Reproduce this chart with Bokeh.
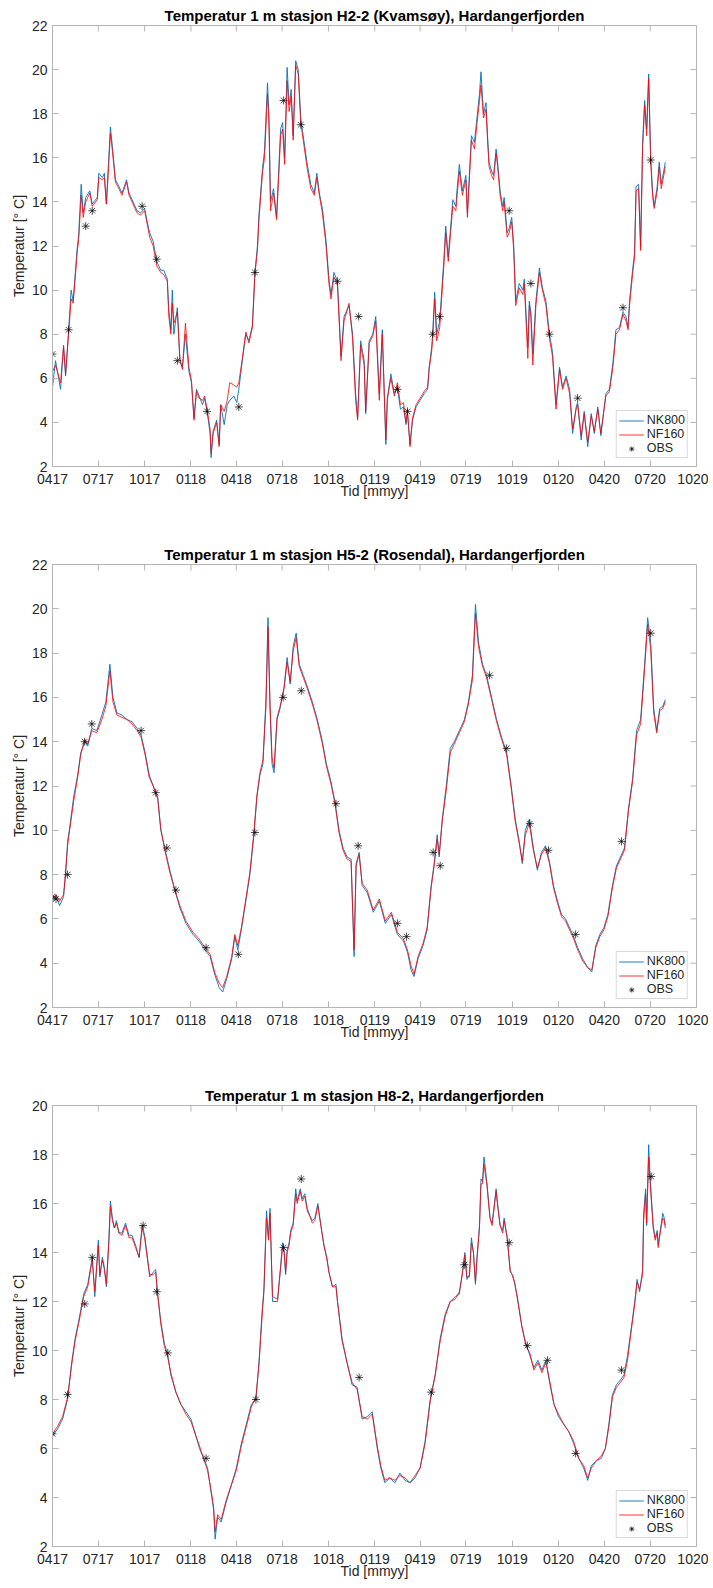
from bokeh.plotting import figure
from bokeh.models import FixedTicker, Range1d, Legend, LegendItem
from bokeh.layouts import column
from bokeh.embed import file_html
from bokeh.resources import INLINE

# ---------------- axis ticks ----------------
tick_days = [0, 91, 183, 275, 365, 456, 548, 640, 730, 821, 913, 1005, 1096, 1187, 1279]
tick_labels = ["0417", "0717", "1017", "0118", "0418", "0718", "1018", "0119",
               "0419", "0719", "1019", "0120", "0420", "0720", "1020"]

# ---------------- H2-2 (Kvamsøy) ----------------
days1 = [0, 6, 16, 22, 26, 32, 37, 41, 46, 49,
         52, 57, 61, 66, 74, 79, 89, 92, 99, 103,
         107, 110, 115, 119, 125, 132, 138, 147, 152, 158,
         168, 175, 183, 188, 193, 200, 207, 215, 221, 228,
         231, 235, 238, 241, 248, 253, 258, 264, 271, 276,
         281, 286, 291, 298, 302, 307, 313, 315, 319, 326,
         331, 334, 341, 347, 352, 360, 366, 370, 377, 384,
         390, 397, 402, 407, 410, 417, 421, 427, 430, 433,
         439, 445, 450, 453, 457, 461, 466, 470, 474, 478,
         483, 488, 493, 501, 506, 513, 520, 525, 530, 536,
         543, 549, 553, 559, 566, 573, 579, 589, 596, 602,
         606, 612, 619, 622, 629, 636, 642, 649, 655, 662,
         665, 672, 679, 685, 691, 697, 702, 705, 710, 715,
         722, 730, 738, 745, 748, 753, 755, 759, 763, 769,
         777, 781, 786, 795, 801, 804, 808, 814, 821, 824,
         832, 838, 842, 848, 851, 856, 861, 864, 867, 872,
         876, 881, 884, 889, 894, 897, 903, 907, 912, 916,
         920, 927, 934, 937, 944, 947, 950, 954, 960, 967,
         973, 980, 987, 993, 1000, 1007, 1013, 1020, 1027, 1033,
         1040, 1043, 1050, 1056, 1063, 1070, 1076, 1083, 1089, 1099,
         1106, 1113, 1119, 1126, 1133, 1139, 1143, 1146, 1152, 1156,
         1159, 1164, 1168, 1172, 1176, 1180, 1184, 1188, 1192, 1195,
         1201, 1205, 1209, 1214, 1217]
nk800_1 = [5.6, 6.8, 5.5, 7.4, 6.1, 8.2, 10.0, 9.5, 11.0, 11.9,
           12.5, 14.8, 13.5, 14.2, 14.5, 13.9, 14.2, 15.3, 15.1, 15.3,
           13.9, 15.2, 17.4, 16.5, 15.0, 14.7, 14.4, 15.0, 14.4, 14.1,
           13.6, 13.5, 13.7, 13.1, 12.6, 12.2, 11.3, 10.9, 10.9, 10.5,
           9.1, 8.2, 10.0, 8.0, 9.2, 6.8, 6.5, 8.0, 6.3, 5.8,
           4.2, 5.5, 5.2, 4.8, 5.1, 4.5, 3.5, 2.4, 3.6, 4.1,
           3.0, 4.8, 3.9, 4.8, 5.0, 5.2, 4.9, 5.5, 6.8, 8.0,
           7.7, 8.4, 10.8, 12.0, 13.4, 15.5, 16.3, 19.4, 17.8, 14.0,
           14.6, 13.3, 15.8, 17.3, 17.6, 16.0, 20.1, 18.4, 19.1, 17.0,
           20.4, 20.0, 17.8, 16.5, 15.7, 14.8, 14.4, 15.3, 14.4, 13.7,
           12.3, 10.5, 9.8, 10.8, 10.4, 7.0, 8.8, 9.3, 8.0, 5.3,
           4.2, 7.7, 6.8, 4.4, 7.7, 8.0, 8.8, 5.3, 8.2, 3.0,
           5.0, 6.2, 5.3, 5.6, 4.6, 4.7, 3.9, 4.4, 3.0, 4.1,
           4.7, 5.0, 5.3, 5.5, 6.5, 7.4, 8.0, 9.9, 8.0, 8.6,
           11.3, 12.9, 11.5, 14.1, 13.8, 14.7, 15.7, 14.5, 15.2, 13.5,
           17.0, 16.7, 17.6, 18.9, 19.9, 18.0, 18.5, 17.0, 15.8, 15.4,
           15.2, 16.4, 15.8, 14.5, 13.8, 14.2, 12.6, 12.8, 13.3, 12.0,
           9.5, 10.3, 10.0, 10.5, 7.4, 9.5, 9.0, 7.1, 9.5, 11.0,
           10.1, 9.5, 8.0, 7.2, 4.8, 6.5, 5.6, 6.1, 5.5, 3.5,
           4.7, 4.9, 3.2, 4.5, 2.9, 4.4, 3.5, 4.7, 3.4, 5.3,
           5.5, 6.7, 8.2, 8.3, 9.0, 8.8, 8.3, 9.5, 10.9, 11.7,
           14.7, 14.8, 12.0, 16.7, 18.6, 17.3, 19.8, 16.0, 14.4, 13.8,
           14.7, 15.8, 14.8, 15.4, 15.8]
nf160_1 = [6.3, 6.6, 5.8, 7.5, 6.2, 8.0, 9.6, 9.4, 10.8, 11.7,
           12.3, 14.3, 13.3, 14.0, 14.4, 13.8, 14.1, 15.1, 15.0, 15.1,
           13.9, 15.0, 17.1, 16.3, 14.9, 14.6, 14.3, 14.9, 14.3, 14.0,
           13.5, 13.4, 13.6, 13.0, 12.4, 12.0, 11.1, 10.8, 10.7, 10.4,
           8.8, 8.0, 9.4, 8.5, 9.0, 6.9, 6.4, 8.5, 6.5, 5.9,
           4.1, 5.4, 5.1, 5.0, 5.2, 4.6, 3.7, 2.6, 3.5, 4.0,
           2.9, 4.8, 4.5, 5.0, 5.8, 5.7, 5.6, 5.8, 6.9, 8.1,
           7.6, 8.3, 10.7, 11.8, 13.2, 15.3, 16.0, 18.9, 17.5, 13.6,
           14.4, 13.2, 15.5, 17.0, 17.3, 15.7, 19.5, 18.1, 18.8, 16.8,
           20.2, 19.8, 17.6, 16.3, 15.5, 14.6, 14.3, 15.1, 14.3, 13.5,
           12.1, 10.3, 9.6, 10.6, 10.2, 6.8, 8.6, 9.4, 7.8, 5.0,
           4.1, 7.5, 6.6, 4.5, 7.6, 7.9, 8.6, 5.0, 8.0, 3.2,
           5.1, 6.0, 5.2, 5.8, 4.8, 4.9, 4.0, 4.6, 2.9, 4.2,
           4.8, 5.1, 5.4, 5.6, 6.4, 7.2, 7.8, 9.6, 7.7, 8.3,
           11.0, 12.6, 11.3, 13.8, 13.6, 14.4, 15.4, 14.3, 15.0, 13.3,
           16.8, 16.4, 17.3, 18.6, 19.3, 17.8, 18.2, 16.8, 15.6, 15.2,
           15.0, 16.2, 15.6, 14.3, 13.6, 14.0, 12.4, 12.6, 13.1, 11.8,
           9.3, 10.1, 9.8, 10.3, 6.9, 9.3, 8.8, 6.6, 9.3, 10.8,
           10.0, 9.3, 7.8, 7.0, 4.6, 6.4, 5.5, 6.0, 5.3, 3.7,
           4.6, 4.8, 3.4, 4.4, 3.1, 4.3, 3.6, 4.6, 3.5, 5.2,
           5.4, 6.5, 8.0, 8.2, 8.9, 8.6, 8.2, 9.3, 10.7, 11.5,
           14.5, 14.6, 11.8, 16.4, 18.4, 17.0, 19.6, 15.8, 14.2, 13.7,
           14.5, 15.6, 14.6, 15.2, 15.6]
obs_days1 = [0, 32, 66, 79, 178, 207, 248, 307, 370, 402, 459, 493,
             566, 608, 685, 705, 755, 769, 907, 950, 987, 1043, 1133, 1188]
obs_vals1 = [7.1, 8.2, 12.9, 13.6, 13.8, 11.4, 6.8, 4.5, 4.7, 10.8, 18.6, 17.5,
             10.4, 8.8, 5.5, 4.5, 8.0, 8.8, 13.6, 10.3, 8.0, 5.1, 9.2, 15.9]

# ---------------- H5-2 (Rosendal) ----------------
days2 = [0, 7, 14, 22, 26, 30, 34, 42, 50, 56,
         64, 70, 78, 88, 98, 106, 114, 120, 128, 138,
         148, 158, 168, 176, 184, 192, 200, 209, 215, 223,
         233, 243, 253, 265, 279, 291, 303, 313, 322, 331,
         338, 346, 356, 362, 368, 375, 384, 392, 400, 406,
         412, 418, 424, 428, 432, 436, 440, 446, 452, 460,
         466, 472, 478, 484, 490, 498, 506, 516, 526, 536,
         544, 553, 561, 569, 577, 585, 593, 599, 603, 609,
         615, 625, 637, 649, 661, 673, 685, 697, 705, 712,
         718, 726, 736, 744, 752, 758, 764, 768, 774, 782,
         790, 798, 808, 818, 826, 834, 840, 846, 854, 862,
         872, 882, 892, 902, 911, 919, 927, 933, 939, 947,
         955, 963, 971, 979, 987, 995, 1003, 1011, 1019, 1027,
         1035, 1043, 1053, 1063, 1071, 1079, 1087, 1095, 1103, 1112,
         1120, 1128, 1136, 1144, 1152, 1160, 1168, 1176, 1182, 1188,
         1194, 1200, 1206, 1212, 1217]
nk800_2 = [6.8, 7.0, 6.6, 7.0, 8.0, 9.5, 10.1, 11.5, 12.5, 13.5,
           14.0, 13.8, 14.6, 14.5, 15.2, 15.8, 17.5, 16.0, 15.3, 15.2,
           15.0, 14.9, 14.6, 14.3, 13.5, 12.5, 12.0, 11.5, 10.0, 9.2,
           8.2, 7.3, 6.5, 5.8, 5.3, 5.0, 4.6, 4.3, 3.5, 2.9,
           2.7, 3.3, 4.2, 5.2, 4.6, 5.5, 6.8, 8.0, 9.8, 11.5,
           12.5, 13.0, 16.0, 19.6, 15.5, 13.0, 12.6, 15.0, 15.5, 16.5,
           17.8, 16.6, 18.3, 18.9, 17.5, 17.0, 16.5, 15.8, 15.0, 14.0,
           13.0, 12.2, 11.3, 10.0, 9.2, 8.8, 8.7, 4.3, 8.5, 9.0,
           7.5, 7.2, 6.3, 6.8, 5.8, 6.2, 5.3, 5.0, 4.5, 3.7,
           3.4, 4.2, 4.8, 5.5, 7.5, 8.5, 9.8, 8.8, 10.5, 12.0,
           13.7, 14.0, 14.5, 15.0, 15.8, 17.0, 20.2, 18.5, 17.5, 17.0,
           16.0, 15.0, 14.2, 13.5, 12.0, 10.5, 9.5, 8.5, 10.0, 10.5,
           9.2, 8.2, 9.0, 9.3, 8.6, 7.5, 6.8, 6.2, 6.0, 5.6,
           5.2, 4.7, 4.2, 3.8, 3.6, 4.8, 5.3, 5.6, 6.2, 7.5,
           8.4, 8.8, 9.2, 11.0, 12.3, 14.5, 15.0, 17.5, 19.6, 18.5,
           15.5, 14.5, 15.5, 15.6, 15.9]
nf160_2 = [6.9, 7.1, 6.8, 7.1, 8.1, 9.3, 10.0, 11.3, 12.4, 13.4,
           14.1, 13.9, 14.5, 14.4, 15.0, 15.6, 17.2, 15.8, 15.2, 15.1,
           15.0, 14.8, 14.5, 14.2, 13.4, 12.4, 12.0, 11.4, 10.1, 9.1,
           8.1, 7.3, 6.6, 5.9, 5.4, 5.1, 4.7, 4.4, 3.6, 3.1,
           2.9, 3.4, 4.3, 5.3, 4.8, 5.6, 6.9, 8.1, 9.9, 11.6,
           12.6, 13.2, 15.6, 19.2, 15.7, 13.3, 12.8, 15.1, 15.6, 16.4,
           17.6, 16.7, 18.1, 18.7, 17.4, 16.9, 16.4, 15.7, 14.9, 13.9,
           12.9, 12.1, 11.2, 9.9, 9.1, 8.7, 8.6, 4.6, 8.4, 8.9,
           7.6, 7.3, 6.4, 6.9, 5.9, 6.3, 5.4, 5.1, 4.6, 3.9,
           3.5, 4.3, 4.9, 5.6, 7.4, 8.4, 9.6, 8.9, 10.4, 11.8,
           13.5, 13.9, 14.4, 14.9, 15.7, 16.8, 19.8, 18.3, 17.4, 16.9,
           15.9, 14.9, 14.1, 13.4, 11.9, 10.4, 9.4, 8.6, 9.8, 10.3,
           9.1, 8.3, 8.9, 9.2, 8.5, 7.4, 6.7, 6.1, 5.9, 5.5,
           5.1, 4.6, 4.1, 3.8, 3.7, 4.7, 5.2, 5.5, 6.1, 7.4,
           8.3, 8.7, 9.1, 10.9, 12.2, 14.3, 14.8, 17.3, 19.3, 18.2,
           15.3, 14.4, 15.4, 15.5, 15.8]
obs_days2 = [0, 7, 30, 64, 78, 176, 205, 227, 245, 305, 369, 402, 458, 494,
             563, 607, 685, 703, 756, 770, 868, 902, 948, 985, 1039, 1130, 1188]
obs_vals2 = [7.0, 6.9, 8.0, 14.0, 14.8, 14.5, 11.7, 9.2, 7.3, 4.7, 4.4, 9.9, 16.0, 16.3,
             11.2, 9.3, 5.8, 5.2, 9.0, 8.4, 17.0, 13.7, 10.3, 9.1, 5.3, 9.5, 18.9]

# ---------------- H8-2 ----------------
days3 = [0, 10, 20, 30, 38, 45, 52, 62, 70, 79,
         84, 91, 94, 99, 103, 107, 112, 115, 119, 123,
         127, 132, 138, 145, 152, 158, 165, 172, 178, 183,
         188, 193, 200, 205, 208, 215, 222, 229, 235, 245,
         255, 265, 275, 285, 292, 300, 308, 315, 320, 323,
         328, 335, 345, 355, 365, 375, 385, 395, 404, 410,
         416, 420, 425, 429, 432, 437, 447, 457, 460, 463,
         466, 470, 473, 478, 483, 486, 492, 496, 501, 506,
         511, 516, 521, 527, 533, 539, 545, 549, 556, 563,
         566, 575, 585, 595, 605, 615, 625, 635, 645, 652,
         660, 670, 680, 690, 700, 710, 720, 730, 740, 750,
         760, 770, 780, 790, 800, 808, 814, 819, 823, 828,
         832, 836, 840, 843, 848, 851, 854, 857, 863, 866,
         869, 873, 876, 881, 884, 889, 894, 897, 903, 909,
         914, 918, 924, 932, 940, 948, 956, 964, 972, 980,
         988, 996, 1005, 1015, 1025, 1035, 1045, 1055, 1063, 1070,
         1080, 1090, 1098, 1105, 1112, 1120, 1128, 1135, 1142, 1150,
         1157, 1161, 1166, 1172, 1174, 1178, 1180, 1184, 1187, 1193,
         1197, 1201, 1203, 1207, 1212, 1215, 1217]
nk800_3 = [6.5, 6.8, 7.2, 8.0, 9.5, 10.5, 11.2, 12.3, 12.7, 13.8,
           12.2, 14.5, 13.0, 13.8, 13.4, 12.6, 14.6, 16.1, 15.4, 15.0,
           15.3, 14.8, 14.8, 15.2, 14.7, 14.7, 14.3, 13.8, 15.1, 14.7,
           13.9, 13.0, 13.2, 13.3, 12.4, 11.2, 10.3, 9.8, 9.0, 8.3,
           7.8, 7.5, 7.2, 6.5, 6.0, 5.6, 5.2, 4.2, 3.5, 2.3,
           3.2, 3.0, 3.8, 4.5, 5.2, 6.2, 7.0, 7.8, 8.0, 9.5,
           11.5, 12.4, 15.7, 14.6, 15.8, 12.0, 12.0, 14.4, 14.1, 13.1,
           14.1, 14.4, 14.9, 15.2, 16.6, 16.1, 16.6, 16.2, 16.4, 15.8,
           15.5, 15.3, 15.4, 16.0, 15.1, 14.3, 13.8, 13.2, 12.6, 12.7,
           12.0, 10.5, 9.5, 8.6, 8.5, 7.2, 7.3, 7.5, 6.0, 5.2,
           4.6, 4.8, 4.6, 5.0, 4.7, 4.6, 4.8, 5.2, 6.3, 8.0,
           9.0, 10.5, 11.5, 12.0, 12.2, 12.3, 13.2, 14.0, 12.9, 13.1,
           14.6, 14.0, 12.7, 13.8, 15.1, 17.0, 16.9, 17.9, 16.8, 16.1,
           15.4, 15.2, 15.7, 16.6, 16.0, 15.1, 14.9, 15.4, 14.6, 13.2,
           13.1, 12.7, 12.1, 11.0, 10.3, 9.8, 9.3, 9.6, 9.2, 9.6,
           8.6, 7.8, 7.3, 7.0, 6.7, 6.2, 5.6, 5.2, 4.7, 5.3,
           5.5, 5.6, 6.0, 7.0, 8.2, 8.6, 8.8, 9.0, 9.8, 11.0,
           12.1, 12.9, 12.4, 13.3, 15.6, 16.6, 15.1, 18.4, 17.0, 15.1,
           14.6, 14.9, 14.3, 14.9, 15.6, 15.4, 15.1]
nf160_3 = [6.6, 6.9, 7.3, 8.1, 9.4, 10.4, 11.1, 12.2, 12.6, 13.7,
           12.4, 14.3, 13.1, 13.7, 13.3, 12.7, 14.4, 15.9, 15.3, 15.0,
           15.2, 14.8, 14.7, 15.1, 14.6, 14.6, 14.2, 13.8, 15.0, 14.6,
           13.8, 13.1, 13.1, 13.2, 12.5, 11.1, 10.2, 9.7, 9.1, 8.3,
           7.8, 7.4, 7.1, 6.5, 6.1, 5.6, 5.1, 4.3, 3.6, 2.6,
           3.3, 3.1, 3.9, 4.5, 5.1, 6.1, 6.9, 7.7, 8.1, 9.4,
           11.3, 12.6, 15.4, 14.5, 15.6, 12.2, 12.1, 14.2, 14.0, 13.2,
           14.0, 14.3, 14.8, 15.1, 16.4, 16.0, 16.5, 16.1, 16.3, 15.7,
           15.5, 15.2, 15.3, 15.9, 15.1, 14.3, 13.7, 13.2, 12.6, 12.6,
           12.0, 10.4, 9.5, 8.7, 8.4, 7.3, 7.2, 7.4, 6.1, 5.3,
           4.7, 4.8, 4.7, 4.9, 4.8, 4.6, 4.9, 5.2, 6.2, 7.9,
           9.0, 10.4, 11.4, 12.0, 12.1, 12.4, 13.1, 13.9, 13.0, 13.0,
           14.4, 14.0, 12.8, 13.7, 15.0, 16.8, 16.8, 17.6, 16.7, 16.0,
           15.4, 15.1, 15.6, 16.5, 15.9, 15.1, 14.8, 15.3, 14.6, 13.3,
           13.0, 12.8, 12.0, 11.0, 10.2, 9.9, 9.2, 9.5, 9.1, 9.5,
           8.7, 7.8, 7.4, 7.0, 6.7, 6.3, 5.6, 5.3, 4.8, 5.2,
           5.5, 5.7, 6.0, 6.9, 8.1, 8.5, 8.7, 8.9, 9.6, 10.9,
           12.0, 12.8, 12.5, 13.1, 15.3, 16.4, 15.2, 17.9, 16.8, 15.0,
           14.5, 14.8, 14.2, 14.8, 15.4, 15.3, 15.0]
obs_days3 = [0, 30, 64, 79, 180, 207, 229, 305, 404, 459, 494, 609,
             752, 818, 907, 943, 983, 1039, 1130, 1189]
obs_vals3 = [6.6, 8.2, 11.9, 13.8, 15.1, 12.4, 9.9, 5.6, 8.0, 14.2, 17.0, 8.9,
             8.3, 13.5, 14.4, 10.2, 9.6, 5.8, 9.2, 17.1]

FONT = "Liberation Sans"
AX = "#b4b4b4"
TXT = "#262626"
FRAME_W = 644
XMAX = 1279
TICK_LEN = 6


def make_panel(title, days, nk, nf, od, ov, ymin, ymax, frame_h, b_top, b_bot):
    p = figure(frame_width=FRAME_W, frame_height=frame_h,
               min_border_left=52, min_border_right=12,
               min_border_top=b_top, min_border_bottom=b_bot,
               x_range=Range1d(0, XMAX), y_range=Range1d(ymin, ymax),
               output_backend="svg", toolbar_location=None,
               background_fill_color="white", border_fill_color="white")
    p.outline_line_color = AX
    p.outline_line_width = 1
    p.xgrid.visible = False
    p.ygrid.visible = False

    p.title.text = title
    p.title.align = "center"
    p.title.text_font = FONT
    p.title.text_font_size = "15px"
    p.title.text_font_style = "bold"
    p.title.text_color = "black"
    p.title.standoff = 3

    yticks = list(range(ymin, ymax + 1, 2))
    xa = p.xaxis[0]
    xa.ticker = FixedTicker(ticks=tick_days)
    xa.major_label_overrides = {d: s for d, s in zip(tick_days, tick_labels)}
    ya = p.yaxis[0]
    ya.ticker = FixedTicker(ticks=yticks)

    for ax in (xa, ya):
        ax.axis_line_color = AX
        ax.major_tick_line_color = AX
        ax.minor_tick_line_color = None
        ax.major_tick_in = TICK_LEN
        ax.major_tick_out = 0
        ax.major_label_text_font = FONT
        ax.major_label_text_font_size = "14px"
        ax.major_label_text_color = TXT
        ax.axis_label_text_font = FONT
        ax.axis_label_text_font_size = "14px"
        ax.axis_label_text_font_style = "normal"
        ax.axis_label_text_color = TXT
    xa.axis_label = "Tid [mmyy]"
    xa.major_label_standoff = 7
    xa.axis_label_standoff = -4
    ya.axis_label = "Temperatur [° C]"
    ya.major_label_standoff = 5
    ya.axis_label_standoff = 2

    # mirrored inward ticks on the top and right edges of the box
    dy = TICK_LEN * (ymax - ymin) / frame_h
    dx = TICK_LEN * XMAX / FRAME_W
    p.segment(x0=tick_days, y0=[ymax] * len(tick_days),
              x1=tick_days, y1=[ymax - dy] * len(tick_days),
              line_color=AX, line_width=1)
    p.segment(x0=[XMAX] * len(yticks), y0=yticks,
              x1=[XMAX - dx] * len(yticks), y1=yticks,
              line_color=AX, line_width=1)

    r1 = p.line(days, nk, line_color="#0072BD", line_width=0.9)
    r2 = p.line(days, nf, line_color="#FF0000", line_width=0.8)
    r3 = p.scatter(od, ov, marker="asterisk", size=8, line_color="black",
                   line_width=0.7)

    leg = Legend(items=[LegendItem(label="NK800", renderers=[r1]),
                        LegendItem(label="NF160", renderers=[r2]),
                        LegendItem(label="OBS", renderers=[r3])],
                 location="bottom_right")
    leg.margin = 8
    leg.padding = 2
    leg.spacing = 0
    leg.glyph_width = 25
    leg.glyph_height = 13
    leg.label_height = 13
    leg.label_standoff = 3
    leg.label_text_font = FONT
    leg.label_text_font_size = "12.5px"
    leg.label_text_color = TXT
    leg.border_line_color = AX
    leg.border_line_width = 1
    leg.background_fill_color = "white"
    p.add_layout(leg)
    return p


p1 = make_panel("Temperatur 1 m stasjon H2-2 (Kvamsøy), Hardangerfjorden",
                days1, nk800_1, nf160_1, obs_days1, obs_vals1, 2, 22, 441, 25, 76)
p2 = make_panel("Temperatur 1 m stasjon H5-2 (Rosendal), Hardangerfjorden",
                days2, nk800_2, nf160_2, obs_days2, obs_vals2, 2, 22, 443, 21, 76)
p3 = make_panel("Temperatur 1 m stasjon H8-2, Hardangerfjorden",
                days3, nk800_3, nf160_3, obs_days3, obs_vals3, 2, 20, 441, 21, 36)

layout = column(p1, p2, p3, spacing=0)
open("out.html", "w").write(file_html(layout, INLINE))
